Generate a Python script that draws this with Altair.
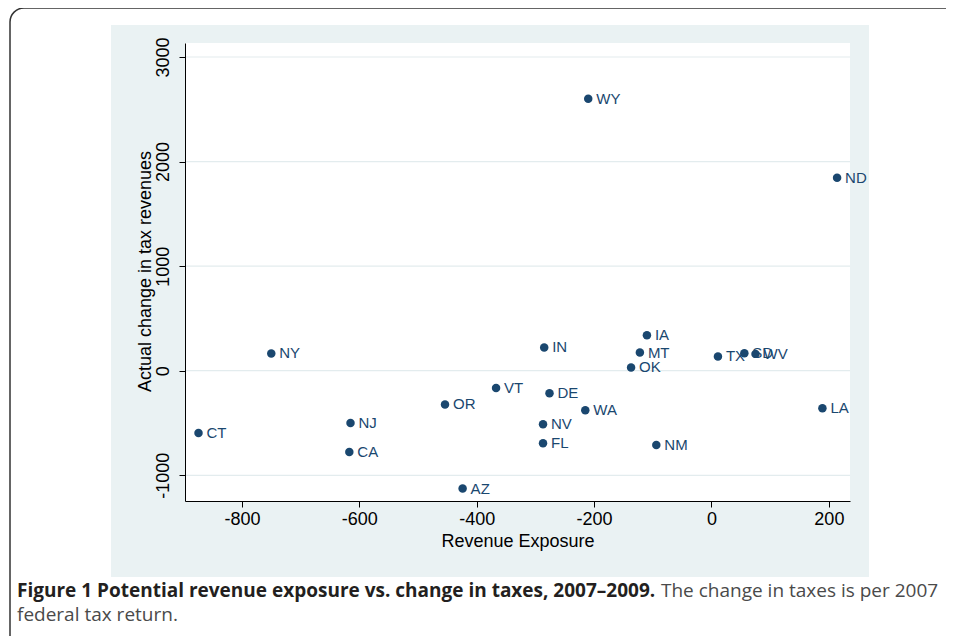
import altair as alt
import pandas as pd

# ---- data ----
states = ["WY", "ND", "NY", "IN", "IA", "MT", "OK", "TX", "SD", "WV", "LA",
          "VT", "DE", "OR", "WA", "NV", "NJ", "CT", "FL", "NM", "CA", "AZ"]
exposure = [-210, 214, -750, -285, -110, -122, -137, 11, 56, 75, 189,
            -367, -276, -454, -215, -287, -615, -874, -287, -94, -617, -424]
change = [2601, 1845, 165, 222, 340, 174, 31, 136, 167, 161, -359,
          -165, -215, -323, -378, -512, -500, -595, -694, -710, -777, -1127]
y_ticks = [-1000, 0, 1000, 2000, 3000]
x_ticks = [-800, -600, -400, -200, 0, 200]

x_title = "Revenue Exposure"
y_title = "Actual change in tax revenues"
caption_bold = "Figure 1 Potential revenue exposure vs. change in taxes, 2007\u20132009."
caption_reg1 = "The change in taxes is per 2007"
caption_reg2 = "federal tax return."

W, H = 665, 458
NAVY = "#1A476F"
BLUEGRAY = "#EAF2F3"
FONT = "Liberation Sans"
LBL = "'' + datum.value"

df = pd.DataFrame({"state": states, "exposure": exposure, "change": change})
grid_df = pd.DataFrame({"v": y_ticks})
one = pd.DataFrame({"k": [0]})

xscale = alt.Scale(domain=[-897, 236], nice=False, zero=False)
yscale = alt.Scale(domain=[-1246, 3134], nice=False, zero=False)

xaxis = alt.Axis(values=x_ticks, tickSize=6, labelFontSize=18, labelPadding=3,
                 labelFont=FONT, labelColor="black", labelFlush=False,
                 labelExpr=LBL,
                 title=x_title, titleFontSize=18, titleFont=FONT,
                 titleFontWeight="normal", titleColor="black",
                 titleY=45, titleBaseline="alphabetic", grid=False, zindex=1,
                 domainColor="black", tickColor="black")
yaxis = alt.Axis(values=y_ticks, tickSize=6, labelAngle=270, labelAlign="center",
                 labelBaseline="alphabetic", labelPadding=11, labelFontSize=18,
                 labelFont=FONT, labelColor="black", labelExpr=LBL,
                 title=y_title, titleFontSize=18, titleFont=FONT,
                 titleFontWeight="normal", titleColor="black", titleAngle=270,
                 titleX=-35, titleY=228, titleAlign="center",
                 titleBaseline="alphabetic", grid=False, zindex=1,
                 domainColor="black", tickColor="black")

border = alt.Chart(one).mark_rect(fill="white", stroke="#333333", strokeWidth=1.5,
                                  cornerRadius=14).encode(
    x=alt.value(-175), x2=alt.value(900), y=alt.value(-35), y2=alt.value(800))
bluebg = alt.Chart(one).mark_rect(fill=BLUEGRAY).encode(
    x=alt.value(-74), x2=alt.value(684), y=alt.value(-18), y2=alt.value(534))
whitebg = alt.Chart(one).mark_rect(fill="white").encode(
    x=alt.value(0), x2=alt.value(W), y=alt.value(0), y2=alt.value(H))

grid = alt.Chart(grid_df).mark_rule(color="#E3ECEE", strokeWidth=1.2).encode(
    y=alt.Y("v:Q", scale=yscale, axis=yaxis))

points = alt.Chart(df).mark_circle(size=72, color=NAVY, opacity=1).encode(
    x=alt.X("exposure:Q", scale=xscale, axis=xaxis),
    y=alt.Y("change:Q", scale=yscale, axis=yaxis))

labels = alt.Chart(df).mark_text(align="left", baseline="middle", dx=8,
                                 fontSize=15, font=FONT, color=NAVY).encode(
    x=alt.X("exposure:Q", scale=xscale, axis=xaxis),
    y=alt.Y("change:Q", scale=yscale, axis=yaxis),
    text="state:N")

cap1 = alt.Chart(one).mark_text(align="left", baseline="alphabetic", font="Open Sans",
                                fontSize=19, fontWeight="bold", color="#231F20",
                                text=caption_bold).encode(
    x=alt.value(-168), y=alt.value(554))
cap2 = alt.Chart(one).mark_text(align="left", baseline="alphabetic", font="Open Sans",
                                fontSize=19, color="#4A4A4A",
                                text=caption_reg1).encode(
    x=alt.value(476), y=alt.value(554))
cap3 = alt.Chart(one).mark_text(align="left", baseline="alphabetic", font="Open Sans",
                                fontSize=19, color="#4A4A4A",
                                text=caption_reg2).encode(
    x=alt.value(-168), y=alt.value(578))

chart = alt.layer(border, bluebg, whitebg, grid, points, labels, cap1, cap2, cap3).properties(
    width=W, height=H,
    padding={"left": 177, "top": 35, "right": 96, "bottom": 135},
    autosize=alt.AutoSizeParams(type="none"),
).configure_view(stroke=None, fill=None).configure(background="white")

chart.save("out.html", embed_options={"renderer": "svg", "actions": False})
